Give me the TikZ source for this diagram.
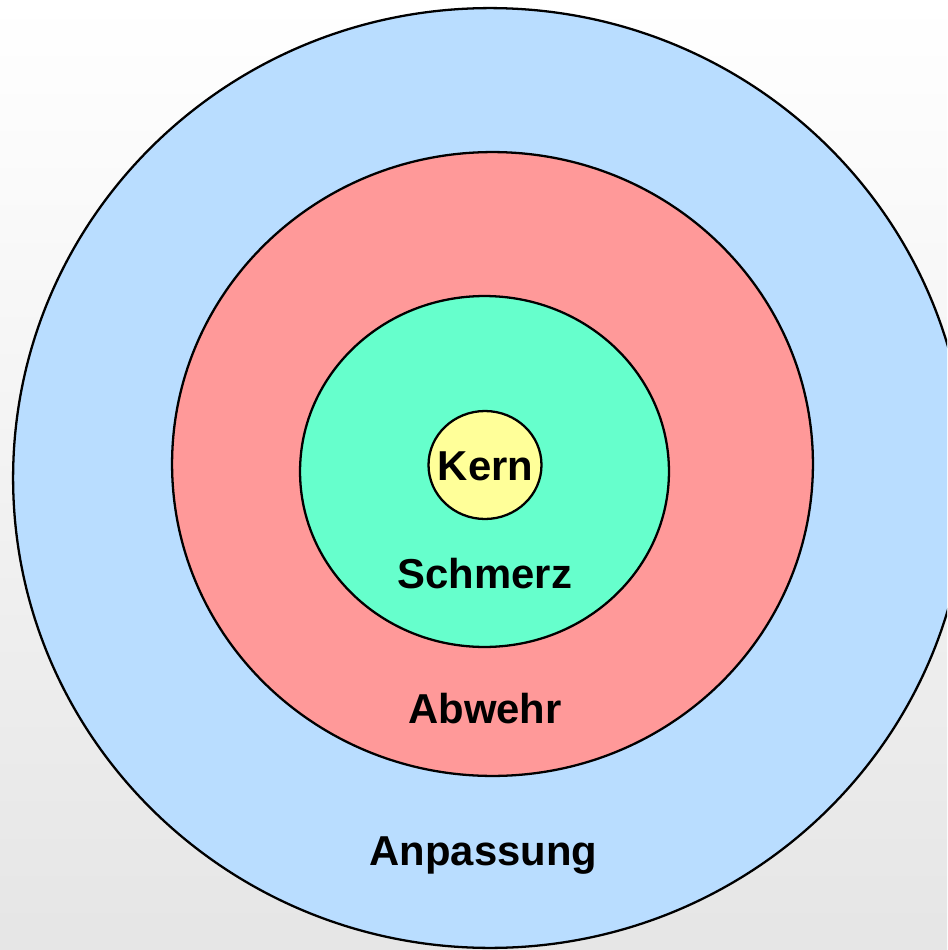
\documentclass[tikz,border=0pt]{standalone}
\usepackage{fontspec}
\setmainfont{Liberation Sans}
\usetikzlibrary{shapes.geometric}

\definecolor{ringblue}{RGB}{185,221,255}
\definecolor{ringred}{RGB}{255,153,153}
\definecolor{ringgreen}{RGB}{102,255,204}
\definecolor{ringyellow}{RGB}{255,255,153}

\begin{document}
\begin{tikzpicture}[x=0.02cm,y=-0.02cm,
        ring/.style={ellipse,draw=black,line width=1.3pt,inner sep=0pt},
        lbl/.style={anchor=base,inner sep=0pt,
          font=\bfseries\fontsize{23.8}{28}\selectfont}]

  \useasboundingbox (0,0) rectangle (947,950);
  \clip (0,0) rectangle (947,950);
  \shade[top color=white,bottom color=black!10] (0,0) rectangle (947,950);

  % rings, outermost first
  \node[ring,fill=ringblue,minimum width=19.08cm,minimum height=18.8cm]
    (outer) at (490,478) {};
  \node[ring,fill=ringred,minimum width=12.82cm,minimum height=12.48cm]
    (middle) at (492.5,464) {};
  \node[ring,fill=ringgreen,minimum width=7.38cm,minimum height=7.02cm]
    (inner) at (484.5,471.5) {};
  \node[ring,fill=ringyellow,minimum width=2.26cm,minimum height=2.16cm]
    (core) at (485,465) {};

  \node[lbl] (kern) at (485.5,480) {Kern};
  \node[lbl] (schmerz) at (485,588) {Schmerz};
  \node[lbl] (abwehr) at (485,723) {Abwehr};
  \node[lbl] (anpassung) at (483.5,865) {Anpassung};

\end{tikzpicture}
\end{document}
